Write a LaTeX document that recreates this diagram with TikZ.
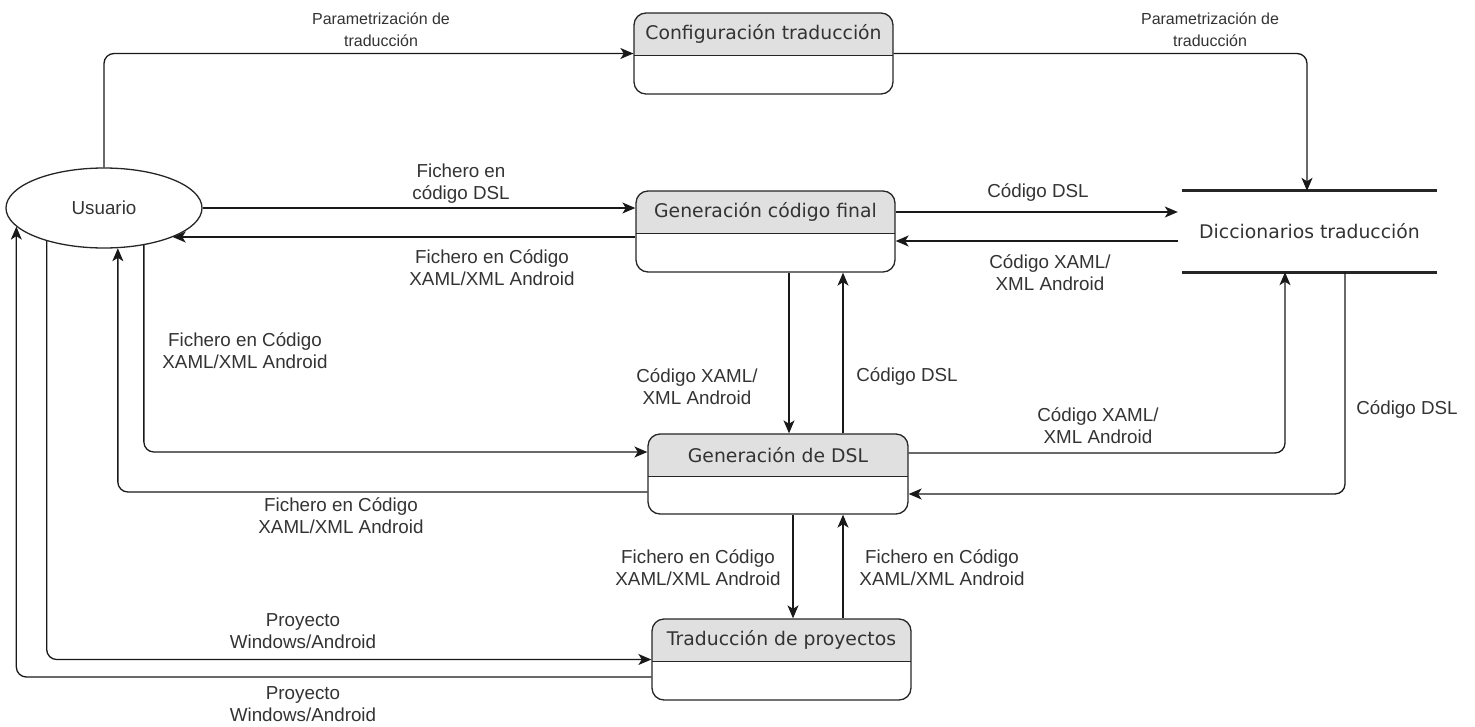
\documentclass[tikz,border=0pt]{standalone}
\usepackage{fontspec}
\setmainfont{Liberation Sans}
\newfontfamily\boxfont{DejaVu Sans}
\usetikzlibrary{arrows.meta,calc,shapes.geometric}
\definecolor{hdr}{HTML}{E0E0E0}
\definecolor{ink}{HTML}{333333}

\begin{document}
\begin{tikzpicture}[x=1pt,y=-1pt,
  lbl/.style={font=\fontsize{18.8}{22}\selectfont, text=ink, align=center, inner sep=0pt},
  smalllbl/.style={lbl, font=\fontsize{16}{22}\selectfont},
  ttl/.style={font=\boxfont\fontsize{18.8}{22}\selectfont, text=ink, inner sep=0pt},
  proc/.style={draw=black!85, line width=1.3pt, rounded corners=12pt,
    minimum width=259pt, minimum height=81pt, inner sep=0pt,
    path picture={
      \fill[hdr, sharp corners] (path picture bounding box.north west)
        rectangle ([yshift=-42.5pt]path picture bounding box.north east);
      \draw[black!85, line width=1.3pt, sharp corners]
        ([yshift=-42.5pt]path picture bounding box.north west)
        -- ([yshift=-42.5pt]path picture bounding box.north east);
    }},
  flow/.style={draw=black!90, line width=1.3pt, rounded corners=10pt,
    -{Stealth[length=13pt,width=11pt,inset=3.5pt]}},
  storeline/.style={draw=black!85, line width=3pt}
]
\useasboundingbox (0,0) rectangle (1475,726);

% external entity
\node[draw=black!85, line width=1.3pt, ellipse, minimum width=196pt,
      minimum height=80pt, inner sep=0pt, lbl] (u) at (104,208) {Usuario};

% processes
\node[proc] (cfg)  at (763.5,53.5) {};
\node[ttl] (cfgT) at ($(cfg.north)+(0,22)$) {Configuración traducción};
\node[proc] (gcf)  at (765.5,231.5) {};
\node[ttl] (gcfT) at ($(gcf.north)+(0,22)$) {Generación código final};
\node[proc, minimum width=260pt, minimum height=80pt] (gdsl) at (778,474) {};
\node[ttl] (gdslT) at ($(gdsl.north)+(0,22)$) {Generación de DSL};
\node[proc] (tp)   at (781.5,659.5) {};
\node[ttl] (tpT) at ($(tp.north)+(0,22)$) {Traducción de proyectos};

% data store
\node[ttl, minimum width=255pt, minimum height=81pt] (ds) at (1309.5,231.5) {Diccionarios traducción};
\draw[storeline] (ds.north west) -- (ds.north east);
\draw[storeline] (ds.south west) -- (ds.south east);

% flows
\draw[flow] (u.north) |- (cfg.west);
\draw[flow] (cfg.east) -| ($(ds.north)+(-2.5,0)$);
\draw[flow] (u.east) -- (u.east -| gcf.west);
\coordinate (a4) at ($(gcf.west)+(0,5.5)$);
\draw[flow] (a4) -- (a4 -| u.-23.3);
\coordinate (a5) at ($(gcf.east)+(0,-19.5)$);
\draw[flow, shorten >=4pt] (a5) -- (a5 -| ds.west);
\coordinate (a6) at ($(ds.west)+(-4,9.5)$);
\draw[flow] (a6) -- (a6 -| gcf.east);
\coordinate (a7) at ($(gcf.south)+(23.5,0)$);
\draw[flow] (a7) -- (a7 |- gdsl.north);
\coordinate (a8) at ($(gdsl.north)+(65,0)$);
\draw[flow] (a8) -- (a8 |- gcf.south);
\draw[flow] ($(gdsl.east)+(0,-21)$) -| ($(ds.south)+(-24.5,0)$);
\draw[flow] ($(ds.south)+(35.5,0)$) |- ($(gdsl.east)+(0,20)$);
\draw[flow] (u.-43.3) |- ($(gdsl.west)+(0,-22)$);
\draw[flow] ($(gdsl.west)+(0,18)$) -| (u.-71.8);
\coordinate (a13) at ($(gdsl.south)+(15,0)$);
\draw[flow] (a13) -- (a13 |- tp.north);
\coordinate (a14) at ($(tp.north)+(61.5,0)$);
\draw[flow] (a14) -- (a14 |- gdsl.south);
\draw[flow] (u.-150.3) |- (tp.west);
\draw[flow] ($(tp.west)+(0,17.5)$) -| (u.-168.7);

% flow labels
\node[smalllbl] (l1)  at (381,30)  {Parametrización de\\traducción};
\node[smalllbl] (l2)  at (1210,30) {Parametrización de\\traducción};
\node[lbl] (l3)  at (461,184)  {Fichero en\\código DSL};
\node[lbl] (l4)  at (492,268)  {Fichero en Código\\XAML/XML Android};
\node[lbl] (l5)  at (1038,193) {Código DSL};
\node[lbl] (l6)  at (1050,273) {Código XAML/\\XML Android};
\node[lbl] (l7)  at (697,387)  {Código XAML/\\XML Android};
\node[lbl] (l8)  at (907,377)  {Código DSL};
\node[lbl] (l9)  at (1098,426) {Código XAML/\\XML Android};
\node[lbl] (l10) at (1407,410) {Código DSL};
\node[lbl] (l11) at (245,351)  {Fichero en Código\\XAML/XML Android};
\node[lbl] (l12) at (341,516)  {Fichero en Código\\XAML/XML Android};
\node[lbl] (l13) at (698,568)  {Fichero en Código\\XAML/XML Android};
\node[lbl] (l14) at (942,568)  {Fichero en Código\\XAML/XML Android};
\node[lbl] (l15) at (303,631)  {Proyecto\\Windows/Android};
\node[lbl] (l16) at (303,704)  {Proyecto\\Windows/Android};
\end{tikzpicture}
\end{document}
